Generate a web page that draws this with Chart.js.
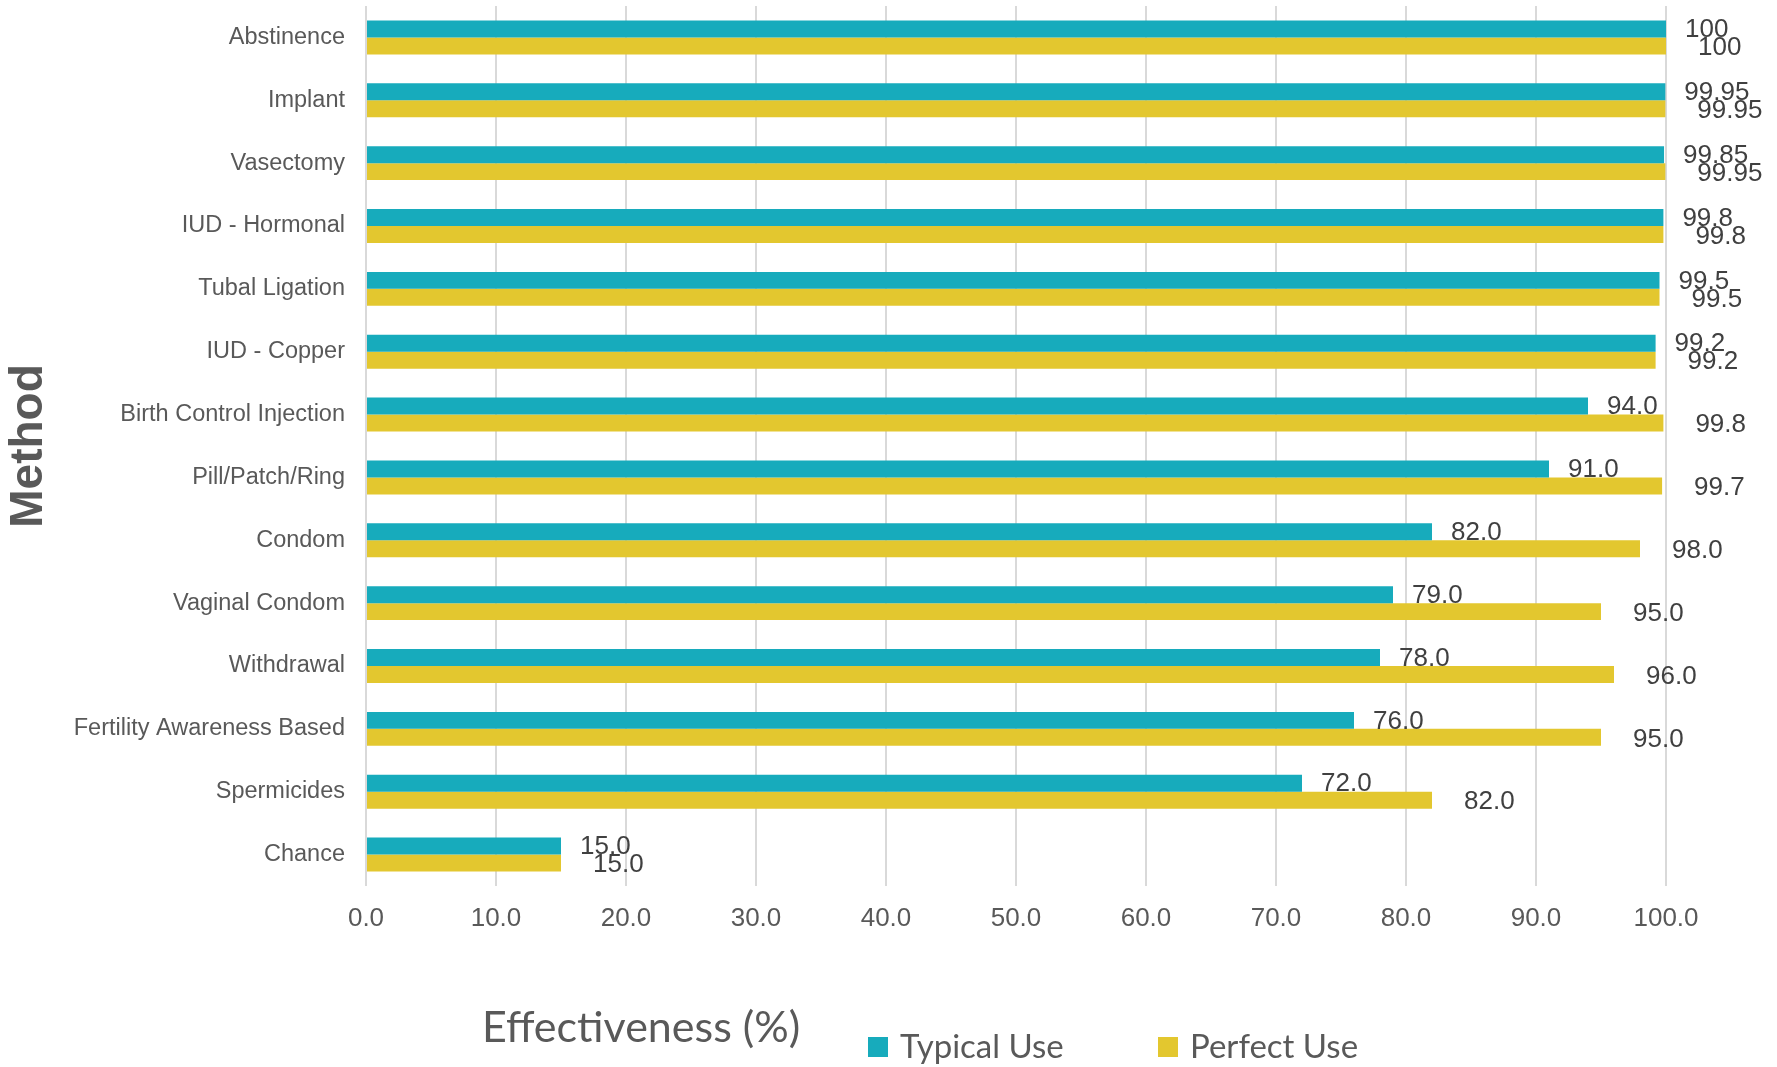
<!DOCTYPE html>
<html>
<head>
<meta charset="utf-8">
<script src="https://cdn.jsdelivr.net/npm/chart.js@4.4.1/dist/chart.umd.min.js"></script>
<style>
  body { margin: 0; background: #fff; }
  canvas { display: block; }
</style>
</head>
<body>
<canvas id="chart" width="1777" height="1067"></canvas>
<script>
const methods = ['Abstinence', 'Implant', 'Vasectomy', 'IUD - Hormonal', 'Tubal Ligation', 'IUD - Copper',
    'Birth Control Injection', 'Pill/Patch/Ring', 'Condom', 'Vaginal Condom', 'Withdrawal',
    'Fertility Awareness Based', 'Spermicides', 'Chance']
const typicalUse = [100, 99.95, 99.85, 99.8, 99.5, 99.2, 94, 91, 82, 79, 78, 76, 72, 15]
const perfectUse = [100, 99.95, 99.95, 99.8, 99.5, 99.2, 99.8, 99.7, 98, 95, 96, 95, 82, 15]
const seriesNames = ['Typical Use', 'Perfect Use']
const xTicks = [0, 10, 20, 30, 40, 50, 60, 70, 80, 90, 100]

const teal = '#17ABBC'
const yellow = '#E3C72F'
const labelFont = '"Liberation Sans", Arial, sans-serif'

function fmt(v) {
    if (Number.isInteger(v)) return v === 100 ? '100' : v.toFixed(1)
    return String(v)
}

// value labels at bar ends, perfect-use labels pushed a bit further right/lower like the original
const valueLabels = {
    id: 'valueLabels',
    afterDatasetsDraw(chart) {
        const ctx = chart.ctx
        ctx.save()
        ctx.font = '26px ' + labelFont
        ctx.fillStyle = '#404040'
        ctx.textBaseline = 'middle'
        ctx.textAlign = 'left'
        chart.data.datasets.forEach((ds, i) => {
            const meta = chart.getDatasetMeta(i)
            meta.data.forEach((bar, j) => {
                const dx = i === 0 ? 19 : 32
                const dy = i === 0 ? 1 : 2
                ctx.fillText(fmt(ds.data[j]), bar.x + dx, bar.y + dy)
            })
        })
        ctx.restore()
    }
}

// x title and legend share one row under the axis
const bottomRow = {
    id: 'bottomRow',
    afterDraw(chart) {
        const ctx = chart.ctx
        ctx.save()
        ctx.fillStyle = '#595959'
        ctx.textBaseline = 'alphabetic'
        ctx.textAlign = 'left'
        ctx.font = '43px Lato, "Open Sans", sans-serif'
        ctx.fillText('Effectiveness (%)', 482, 1042)

        const items = [[868, 900], [1158, 1190]]
        ctx.font = '33px Lato, "Open Sans", sans-serif'
        chart.data.datasets.forEach((ds, i) => {
            const [mx, tx] = items[i]
            ctx.fillStyle = ds.backgroundColor
            ctx.fillRect(mx, 1037, 20, 20)
            ctx.fillStyle = '#595959'
            ctx.fillText(ds.label, tx, 1058)
        })
        ctx.restore()
    }
}

const ctx = document.getElementById('chart').getContext('2d')
const chart = new Chart(ctx, {
    type: 'bar',
    data: {
        labels: methods,
        datasets: [{
            label: seriesNames[0],
            data: typicalUse,
            backgroundColor: teal,
            categoryPercentage: 0.54,
            barPercentage: 1.0,
        }, {
            label: seriesNames[1],
            data: perfectUse,
            backgroundColor: yellow,
            categoryPercentage: 0.54,
            barPercentage: 1.0,
        }]
    },
    options: {
        indexAxis: 'y',
        responsive: false,
        animation: false,
        devicePixelRatio: 1,
        layout: { padding: { left: 0, right: 111, top: 6, bottom: 121 } },
        plugins: {
            legend: { display: false },
            tooltip: { enabled: false },
        },
        scales: {
            x: {
                min: 0,
                max: 100,
                afterBuildTicks: axis => { axis.ticks = xTicks.map(v => ({ value: v })) },
                afterFit: axis => { axis.height = 60 },
                grid: { color: '#d9d9d9', lineWidth: 2, drawTicks: false },
                border: { display: false },
                ticks: {
                    padding: 17,
                    color: '#595959',
                    font: { family: labelFont, size: 26 },
                    callback: v => Number(v).toFixed(1),
                },
            },
            y: {
                afterFit: axis => {
                    axis.width = 366
                    axis.paddingTop = 0
                    axis.paddingBottom = 0
                },
                grid: { display: false },
                border: { display: false },
                ticks: {
                    padding: 13,
                    color: '#595959',
                    font: { family: labelFont, size: 23.5 },
                },
                title: {
                    display: true,
                    text: 'Method',
                    color: '#595959',
                    font: { family: labelFont, size: 46, weight: 'bold' },
                    padding: { top: 2, bottom: 0 },
                },
            },
        },
    },
    plugins: [valueLabels, bottomRow],
})
</script>
</body>
</html>
